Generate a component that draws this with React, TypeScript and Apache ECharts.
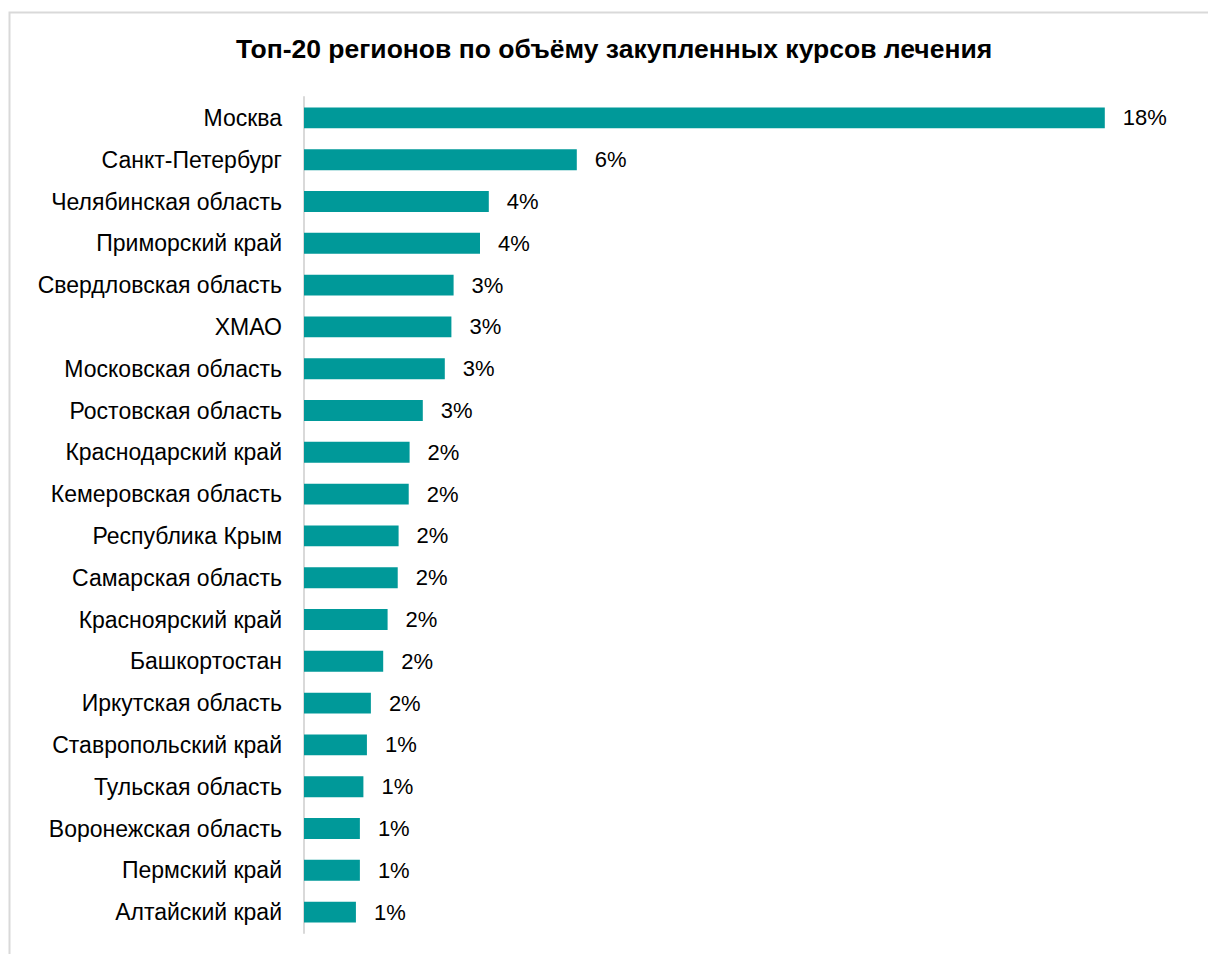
import React, { useEffect, useRef } from "react";
import * as echarts from "echarts";

const regions = [
  "Москва",
  "Санкт-Петербург",
  "Челябинская область",
  "Приморский край",
  "Свердловская область",
  "ХМАО",
  "Московская область",
  "Ростовская область",
  "Краснодарский край",
  "Кемеровская область",
  "Республика Крым",
  "Самарская область",
  "Красноярский край",
  "Башкортостан",
  "Иркутская область",
  "Ставропольский край",
  "Тульская область",
  "Воронежская область",
  "Пермский край",
  "Алтайский край",
];

const shares = [
  18.2, 6.2, 4.2, 4.0, 3.4, 3.35, 3.2, 2.7, 2.4, 2.38, 2.15, 2.13, 1.9, 1.8,
  1.52, 1.43, 1.35, 1.27, 1.27, 1.18,
];

const title = "Топ-20 регионов по объёму закупленных курсов лечения";

const FONT = "Liberation Sans, Arial, sans-serif";

export default function App() {
  const ref = useRef<HTMLDivElement>(null);
  useEffect(() => {
    if (!ref.current) return;
    const chart = echarts.init(ref.current, null, { renderer: "svg" });
    chart.setOption({
      animation: false,
      backgroundColor: "#ffffff",
      title: {
        text: title,
        left: 236,
        top: 35,
        padding: 0,
        textStyle: {
          fontFamily: FONT,
          fontSize: 26.5,
          fontWeight: "bold",
          color: "#000000",
        },
      },
      graphic: [
        {
          type: "rect",
          shape: { x: 9.5, y: 12.5, width: 1300, height: 1000 },
          style: { fill: "none", stroke: "#d9d9d9", lineWidth: 2 },
          silent: true,
          z: -10,
        },
      ],
      grid: { left: 304, right: 24, top: 97, bottom: 21, containLabel: false },
      xAxis: {
        type: "value",
        min: 0,
        max: 20,
        show: false,
      },
      yAxis: {
        type: "category",
        data: regions,
        inverse: true,
        axisLine: { show: true, lineStyle: { color: "#d9d9d9", width: 2 } },
        axisTick: { show: false },
        axisLabel: {
          margin: 22,
          fontFamily: FONT,
          fontSize: 23,
          color: "#000000",
        },
      },
      series: [
        {
          type: "bar",
          data: shares,
          barCategoryGap: "50%",
          itemStyle: { color: "#009999" },
          label: {
            show: true,
            position: "right",
            distance: 18,
            formatter: (p: any) => Math.round(p.value) + "%",
            fontFamily: FONT,
            fontSize: 22,
            color: "#000000",
          },
        },
      ],
    });
    return () => chart.dispose();
  }, []);
  return (
    <div
      ref={ref}
      style={{ position: "absolute", left: 0, top: 0, width: 1208, height: 954 }}
    />
  );
}
